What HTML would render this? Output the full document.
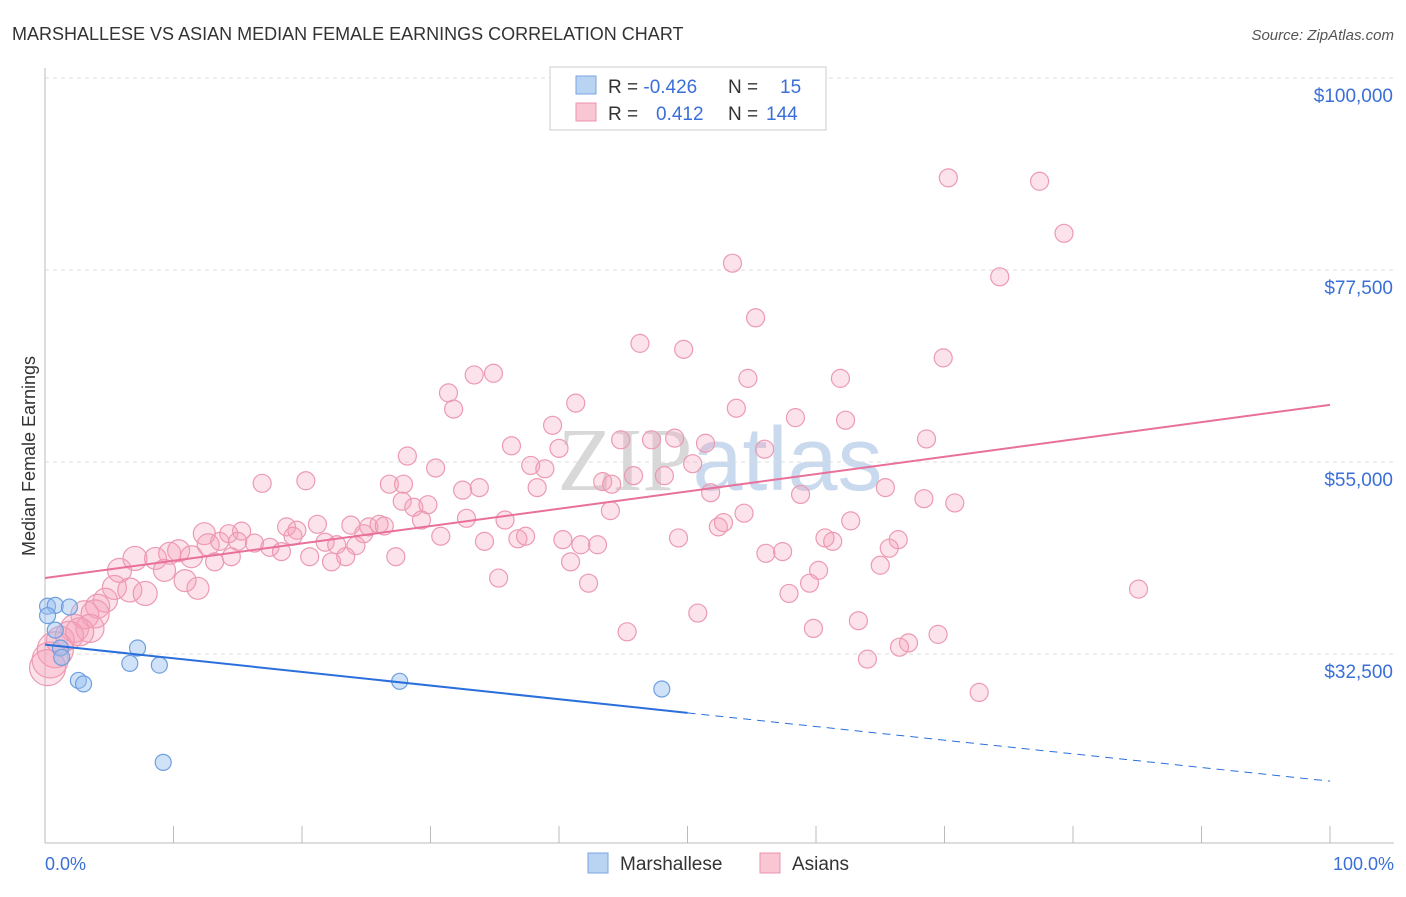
<!DOCTYPE html>
<html><head><meta charset="utf-8"><style>
body{margin:0;background:#fff;font-family:"Liberation Sans",sans-serif}
</style></head><body>
<svg id="chart" width="1406" height="892" xmlns="http://www.w3.org/2000/svg">
<text x="12" y="40" font-size="18" fill="#333">MARSHALLESE VS ASIAN MEDIAN FEMALE EARNINGS CORRELATION CHART</text>
<text x="1394" y="40" font-size="15" fill="#555" font-style="italic" text-anchor="end">Source: ZipAtlas.com</text>
<text x="720" y="490" font-size="90" fill="#d8d8d8" text-anchor="middle" font-family="Liberation Serif">ZIP<tspan fill="#c9d9ee" font-family="Liberation Sans">atlas</tspan></text>
<g id="grid"></g><g id="axes"></g><g id="pink"></g><g id="blue"></g><g id="lines"></g>
<text transform="translate(35,456) rotate(-90)" font-size="18" fill="#333" text-anchor="middle">Median Female Earnings</text>
<text x="45" y="870" font-size="18" fill="#3a6fd8">0.0%</text>
<text x="1394" y="870" font-size="18" fill="#3a6fd8" text-anchor="end">100.0%</text>
<g>
<rect x="550" y="67" width="276" height="63" fill="#fff" stroke="#ccc"/>
<rect x="576" y="76" width="20" height="18" fill="#b9d3f3" stroke="#7aa6e0"/>
<rect x="576" y="103" width="20" height="18" fill="#f9c6d3" stroke="#eb95ad"/>
<text x="608" y="93" font-size="19" fill="#333">R = <tspan fill="#3a6fd8">-0.426</tspan><tspan x="728">N = </tspan><tspan x="780" fill="#3a6fd8">15</tspan></text>
<text x="608" y="120" font-size="19" fill="#333">R = <tspan x="656" fill="#3a6fd8">0.412</tspan><tspan x="728">N = </tspan><tspan x="766" fill="#3a6fd8">144</tspan></text>
</g>
<g>
<rect x="588" y="853" width="20" height="20" fill="#b9d3f3" stroke="#7aa6e0"/>
<text x="620" y="870" font-size="19" fill="#333">Marshallese</text>
<rect x="760" y="853" width="20" height="20" fill="#f9c6d3" stroke="#eb95ad"/>
<text x="792" y="870" font-size="19" fill="#333">Asians</text>
</g>
</svg>
<script>
const yTicks=[32500,55000,77500,100000];
const yTickLabels=["$32,500","$55,000","$77,500","$100,000"];
const xTicks=[0,10,20,30,40,50,60,70,80,90,100];
const pinkX=[70.3,77.4,79.3,53.5,74.3,55.3,46.3,49.7,69.9,33.4,34.9,54.7,61.9,31.4,31.8,41.3,53.8,58.4,62.3,39.5,36.3,44.8,47.2,49.0,51.4,56.0,68.6,40.0,37.8,38.9,28.2,16.9,20.3,30.4,45.8,48.2,50.4,26.8,27.9,32.5,33.8,38.3,43.4,44.1,65.4,27.8,28.7,29.8,51.8,58.8,68.4,70.8,44.0,54.4,14.3,15.3,18.8,19.6,21.2,23.8,25.2,26.0,26.4,29.3,32.8,35.8,52.4,52.8,62.7,12.4,12.7,13.6,15.0,16.3,17.5,18.4,19.3,21.8,22.7,24.2,24.8,30.8,34.2,36.8,37.4,40.3,41.7,43.0,49.3,60.7,61.3,66.4,65.7,5.8,7.0,8.6,9.7,10.4,11.4,13.2,14.5,20.6,22.3,23.4,27.3,40.9,56.1,57.4,65.0,9.3,10.9,60.2,35.3,42.3,59.5,85.1,5.4,6.6,7.8,11.9,4.7,4.1,57.9,3.1,3.9,2.3,3.5,1.2,1.9,2.7,0.8,0.4,0.2,50.8,45.3,59.8,63.3,67.2,69.5,66.5,64.0,72.7];
const pinkY=[88.3,87.9,81.8,78.3,76.7,71.9,68.9,68.2,67.2,65.2,65.4,64.8,64.8,63.1,61.2,61.9,61.3,60.2,59.9,59.3,56.9,57.6,57.6,57.8,57.2,56.5,57.7,56.6,54.6,54.2,55.7,52.5,52.8,54.3,53.4,53.4,54.8,52.4,52.4,51.7,52.0,52.0,52.7,52.4,52.0,50.4,49.7,50.0,51.4,51.2,50.7,50.2,49.3,49.0,46.6,46.9,47.4,47.0,47.7,47.6,47.4,47.7,47.5,48.2,48.4,48.2,47.4,47.9,48.1,46.6,45.3,45.7,45.7,45.5,45.0,44.5,46.3,45.6,45.3,45.2,46.6,46.3,45.7,46.0,46.3,45.9,45.3,45.3,46.1,46.1,45.7,45.9,44.9,42.3,43.7,43.7,44.3,44.6,43.9,43.3,43.9,43.9,43.3,43.9,43.9,43.3,44.3,44.5,42.9,42.3,41.1,42.3,41.4,40.8,40.8,40.1,40.3,40.0,39.6,40.2,38.8,38.1,39.6,37.1,37.2,35.5,35.5,34.1,34.7,35.1,33.0,31.8,30.9,37.3,35.1,35.5,36.4,33.8,34.8,33.3,31.9,28.0];
const blueX=[0.2,0.8,0.2,1.9,0.8,1.2,1.3,2.6,3.0,7.2,6.6,8.9,27.6,48.0,9.2];
const blueY=[38.1,38.2,37.0,38.0,35.3,33.2,32.1,29.4,29.0,33.2,31.4,31.2,29.3,28.4,19.8];
const blueTrend=[33.6,-0.16];
const pinkTrend=[41.4,0.203];
const X=p=>45+p*12.85;
const Y=k=>462-(k*1000-55000)*192/22500;
const NS="http://www.w3.org/2000/svg";
function mk(tag,attrs,parent){const e=document.createElementNS(NS,tag);for(const k in attrs)e.setAttribute(k,attrs[k]);document.getElementById(parent).appendChild(e);return e;}
const topLine=mk('line',{x1:45,x2:1394,y1:78,y2:78,stroke:'#ddd','stroke-dasharray':'4,4'},'grid');


yTicks.forEach((v,i)=>{const y=Y(v/1000);
const g=mk('line',{x1:45,x2:1394,y1:y,y2:y,stroke:'#ddd','stroke-dasharray':'4,4'},'grid');


const t=mk('text',{x:1393,y:y+24,'font-size':19,fill:'#3a6fd8','text-anchor':'end'},'axes');t.textContent=yTickLabels[i];

});
const ax=mk('line',{x1:45,x2:1394,y1:843,y2:843,stroke:'#bbb'},'axes');


const ay=mk('line',{x1:45,x2:45,y1:68,y2:843,stroke:'#bbb'},'axes');


xTicks.forEach(p=>{const t=mk('line',{x1:X(p),x2:X(p),y1:826,y2:843,stroke:'#bbb'},'axes');

});
function rad(x){return x<1?18:x<4?14:x<8?12:x<13?11:9;}
pinkX.forEach((x,i)=>{const c=mk('circle',{cx:X(x),cy:Y(pinkY[i]),r:rad(x),fill:'rgba(244,160,185,0.3)',stroke:'#ec9ab2','stroke-width':1.2},'pink');

});
blueX.forEach((x,i)=>{const c=mk('circle',{cx:X(x),cy:Y(blueY[i]),r:8,fill:'rgba(150,190,240,0.45)',stroke:'#6f9fe0','stroke-width':1.2},'blue');

});
const bl=mk('line',{x1:X(0),y1:Y(blueTrend[0]),x2:X(50),y2:Y(blueTrend[0]+blueTrend[1]*50),stroke:'#2a6fdb','stroke-width':2},'lines');


const bd=mk('line',{x1:X(50),y1:Y(blueTrend[0]+blueTrend[1]*50),x2:X(100),y2:Y(blueTrend[0]+blueTrend[1]*100),stroke:'#2a6fdb','stroke-width':1,'stroke-dasharray':'8,6'},'lines');


const pl=mk('line',{x1:X(0),y1:Y(pinkTrend[0]),x2:X(100),y2:Y(pinkTrend[0]+pinkTrend[1]*100),stroke:'#e8709a','stroke-width':2},'lines');


</script>
</body></html>
